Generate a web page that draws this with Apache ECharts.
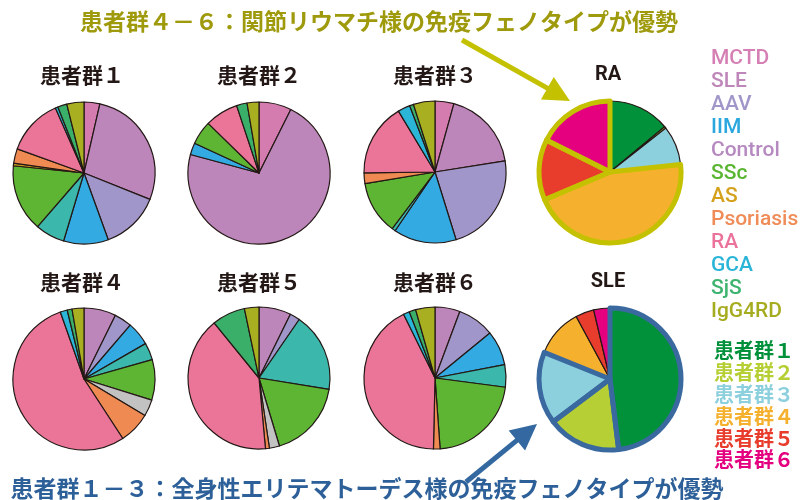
<!DOCTYPE html>
<html><head><meta charset="utf-8">
<script src="https://cdn.jsdelivr.net/npm/echarts@6/dist/echarts.min.js"></script>
<style>html,body{margin:0;padding:0;background:#fff}#c{width:802px;height:500px}</style>
</head><body><div id="c"></div>
<script>
// Diagnosis categories (slice order, clockwise from 12 o'clock)
const categories = ['MCTD','SLE','AAV','IIM','Control','SSc','AS','Other','Psoriasis','RA','GCA','SjS','IgG4RD'];
const categoryColors = ['#d47bb0','#bd86ba','#a096c9','#33aae1','#3bb8ab','#5db533','#c99a1c','#c2c2c2','#ef8b52','#eb7598','#2bb6d8','#3aaf6a','#a8b021'];
// Share (%) of each diagnosis in each patient group
const group1 = [3.6, 27.5, 13.4, 10.2, 6.7, 15.3, 0.6, 0, 3.3, 12.9, 0.6, 2.1, 3.9];
const group2 = [7.4, 71.8, 0, 2.7, 0, 5.4, 0, 0, 0, 7.6, 0, 2.4, 2.7];
const group3 = [4.3, 18.2, 22.7, 14.3, 0.8, 12.1, 0, 0, 2.4, 16.6, 2.8, 0.9, 4.9];
const group4 = [0, 7.3, 4.0, 5.4, 3.9, 9.2, 0, 3.8, 7.2, 53.8, 1.6, 1.1, 2.7];
const group5 = [0, 7.3, 2.3, 0, 18.0, 17.8, 0, 2.3, 0.9, 40.6, 0, 7.6, 3.3];
const group6 = [0, 5.7, 8.4, 7.9, 5.1, 21.8, 0, 0, 1.5, 42.4, 1.4, 1.5, 4.4];
const groupTitles = ['患者群１','患者群２','患者群３','患者群４','患者群５','患者群６'];
// Legend of diagnoses (text colours)
const legendNames = ['MCTD','SLE','AAV','IIM','Control','SSc','AS','Psoriasis','RA','GCA','SjS','IgG4RD'];
const legendColors = ['#d57fb4','#bf86b9','#a196c9','#2aa7df','#b689c0','#5ab532','#d5a11d','#ef8c57','#eb7399','#2ab5d8','#3db36e','#a6ac1f'];
// Patient groups inside RA and SLE
const patientGroups = ['患者群１','患者群２','患者群３','患者群４','患者群５','患者群６'];
const patientGroupColors = ['#00913a','#b5cf34','#8ccfdd','#f5b12e','#e83c2c','#e4007f'];
const raShare = [14.0, 0.4, 8.9, 45.3, 13.8, 17.6];
const sleShare = [48.1, 16.7, 16.4, 11.0, 4.2, 3.7];
const raHighlight = [3, 4, 5];
const sleHighlight = [0, 1, 2];
const headingTop = '患者群４－６：関節リウマチ様の免疫フェノタイプが優勢';
const headingBottom = '患者群１－３：全身性エリテマトーデス様の免疫フェノタイプが優勢';

const groups = [group1, group2, group3, group4, group5, group6];
const centers = [[84,173],[259,173],[435,172],[84,379],[259,378],[435,378]];
const R = 71;
const ink = '#231815';
const jp = '"Noto Sans CJK JP","Noto Sans",sans-serif';

const series = [];
groups.forEach((vals, g) => {
  series.push({
    type: 'pie', silent: true, animation: false,
    center: centers[g], radius: R, startAngle: 90, clockwise: true,
    label: {show: false}, labelLine: {show: false},
    itemStyle: {borderColor: ink, borderWidth: 1.2, borderJoin: 'round'},
    data: categories.map((n, j) => ({name: n, value: vals[j], itemStyle: {color: categoryColors[j]}}))
      .filter(d => d.value > 0)
  });
});
function disease(share, hl, hlColor, center) {
  series.push({
    type: 'pie', silent: true, animation: false,
    center: center, radius: R, startAngle: 90, clockwise: true,
    label: {show: false}, labelLine: {show: false},
    itemStyle: {borderColor: ink, borderWidth: 1.2},
    data: patientGroups.map((n, j) => ({name: n, value: share[j], itemStyle: {color: patientGroupColors[j]}}))
  });
  series.push({
    type: 'pie', silent: true, animation: false, legendHoverLink: false,
    center: center, radius: R, startAngle: 90, clockwise: true,
    label: {show: false}, labelLine: {show: false},
    data: patientGroups.map((n, j) => ({name: n, value: share[j], itemStyle: {
      color: 'rgba(0,0,0,0)',
      borderColor: hlColor, borderWidth: hl.includes(j) ? 5 : 0, borderJoin: 'round'}}))
  });
}
disease(raShare, raHighlight, '#c3c100', [610,172]);
disease(sleShare, sleHighlight, '#3a69a0', [610,379]);

const graphics = [];
const titlePos = [[82,75],[259,75],[435,75],[82,282],[259,282],[435,282]];
groupTitles.forEach((t, i) => graphics.push({type: 'text', x: titlePos[i][0], y: titlePos[i][1],
  style: {text: t, align: 'center', verticalAlign: 'middle', fill: ink, font: 'bold 21px ' + jp}}));
graphics.push({type: 'text', x: 608, y: 75, style: {text: 'RA', align: 'center', verticalAlign: 'middle', fill: ink, font: 'bold 20px Roboto, sans-serif'}});
graphics.push({type: 'text', x: 608, y: 282, style: {text: 'SLE', align: 'center', verticalAlign: 'middle', fill: ink, font: 'bold 20px Roboto, sans-serif'}});
graphics.push({type: 'text', x: 379, y: 21, style: {text: headingTop, align: 'center', verticalAlign: 'middle', fill: '#9e9a0c', font: 'bold 23px ' + jp}});
graphics.push({type: 'text', x: 367, y: 488, style: {text: headingBottom, align: 'center', verticalAlign: 'middle', fill: '#2d5f98', font: 'bold 23px ' + jp}});

function arrow(tail, tip, color, w, hl, hw) {
  const dx = tip[0] - tail[0], dy = tip[1] - tail[1];
  const L = Math.hypot(dx, dy), ux = dx / L, uy = dy / L;
  const bx = tip[0] - ux * hl, by = tip[1] - uy * hl;
  graphics.push({type: 'line', shape: {x1: tail[0], y1: tail[1], x2: bx + ux * 2, y2: by + uy * 2}, style: {stroke: color, lineWidth: w}});
  graphics.push({type: 'polygon', shape: {points: [tip, [bx - uy * hw, by + ux * hw], [bx + uy * hw, by - ux * hw]]}, style: {fill: color}});
}
arrow([462, 40], [570, 101], '#c3c100', 5, 26, 13);
arrow([466, 482], [537, 424], '#3468a0', 5, 26, 13);

const option = {
  backgroundColor: '#fff',
  legend: [
    {
      orient: 'vertical', left: 700, top: 42.5, itemGap: 0, selectedMode: false,
      icon: 'rect', itemWidth: 0, itemHeight: 1, itemStyle: {opacity: 0},
      textStyle: {fontSize: 21, fontFamily: 'Roboto, sans-serif', fontWeight: 500, lineHeight: 23},
      data: legendNames.map((n, i) => ({name: n, textStyle: {color: legendColors[i]}}))
    },
    {
      orient: 'vertical', left: 703, top: 335, itemGap: 0, selectedMode: false,
      icon: 'rect', itemWidth: 0, itemHeight: 1, itemStyle: {opacity: 0},
      textStyle: {fontSize: 20, fontFamily: jp, fontWeight: 'bold', lineHeight: 21.8},
      data: patientGroups.map((n, i) => ({name: n, textStyle: {color: patientGroupColors[i]}}))
    }
  ],
  graphic: graphics,
  series: series
};
const chart = echarts.init(document.getElementById('c'), null, {renderer: 'canvas'});
chart.setOption(option);
</script>
</body></html>
